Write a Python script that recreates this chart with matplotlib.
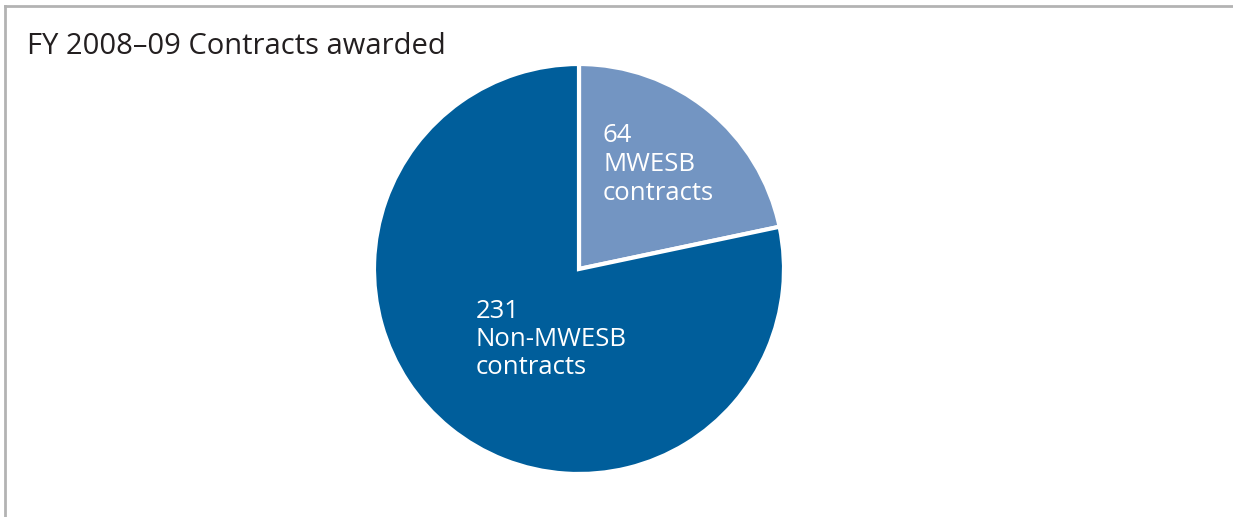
import matplotlib
matplotlib.use("Agg")
import matplotlib.pyplot as plt
from matplotlib.lines import Line2D

title = "FY 2008–09 Contracts awarded"
categories = ["MWESB contracts", "Non-MWESB contracts"]
counts = [64, 231]
label_lines = [["64", "MWESB", "contracts"], ["231", "Non-MWESB", "contracts"]]
colors = ["#7395c2", "#005e9b"]

W, H = 1233, 517
plt.rcParams["font.family"] = ["Open Sans", "DejaVu Sans"]

fig = plt.figure(figsize=(W / 100, H / 100), dpi=100)
ax = fig.add_axes([0, 0, 1, 1])

# pie in pixel coordinates (y measured from the bottom)
ax.pie(
    counts,
    colors=colors,
    startangle=90,
    counterclock=False,
    center=(579, H - 269),
    radius=205,
    wedgeprops={"edgecolor": "white", "linewidth": 3},
    frame=True,
)
ax.set_xlim(0, W)
ax.set_ylim(0, H)
ax.set_aspect("equal")
ax.axis("off")

# slice labels
label_pos = [(603, 136), (476, 311)]
for (x, y), lines in zip(label_pos, label_lines):
    for i, line in enumerate(lines):
        ax.text(x, H - (y + i * 28.5), line, color="white", fontsize=18.5,
                ha="left", va="center")

ax.text(27, H - 46, title, fontsize=21, color="#231f20", ha="left", va="center")

# frame: top and left rules
fig.add_artist(Line2D([5 / W, 1], [1 - 6 / H, 1 - 6 / H], color="#b3b3b3", linewidth=2,
                      transform=fig.transFigure))
fig.add_artist(Line2D([5 / W, 5 / W], [0, 1 - 6 / H], color="#b3b3b3", linewidth=2,
                      transform=fig.transFigure))

fig.savefig("out.png", dpi=100)
